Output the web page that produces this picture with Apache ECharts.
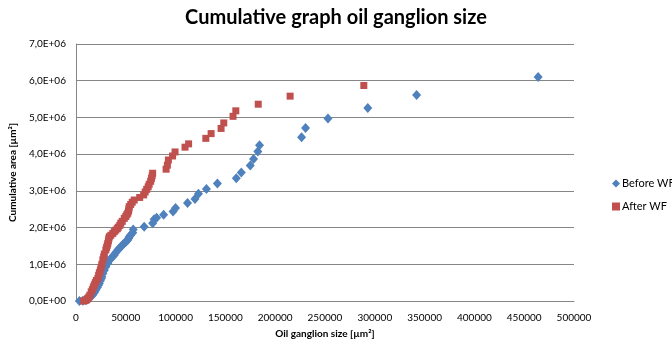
<!DOCTYPE html>
<html>
<head>
<meta charset="utf-8">
<script src="https://cdn.jsdelivr.net/npm/echarts@6/dist/echarts.min.js"></script>
<style>
html,body{margin:0;padding:0;background:#fff;}
#chart{width:672px;height:347px;}
</style>
</head>
<body>
<div id="chart"></div>
<script>
var titleText = 'Cumulative graph oil ganglion size';
var xAxisName = 'Oil ganglion size [µm²]';
var yAxisName = 'Cumulative area [µm²]';
var seriesNames = ['Before WF', 'After WF'];
var yTickLabels = ['0,0E+00','1,0E+06','2,0E+06','3,0E+06','4,0E+06','5,0E+06','6,0E+06','7,0E+06'];
var xTickLabels = ['0','50000','100000','150000','200000','250000','300000','350000','400000','450000','500000'];

var beforeWF = [
  [3500,0],[7000,10000],[10000,25000],[12500,60000],[15000,120000],[17000,170000],
  [18500,230000],[20000,300000],[21500,370000],[22500,430000],[23500,480000],
  [24500,550000],[25500,610000],[26000,660000],[27000,750000],[28500,840000],
  [30000,930000],[32000,1030000],[33500,1100000],[35000,1160000],[37000,1210000],
  [38500,1250000],[40000,1320000],[42000,1390000],[43500,1430000],[45000,1480000],
  [47000,1530000],[48500,1570000],[50500,1620000],[52000,1660000],[53000,1710000],
  [53500,1750000],[55000,1800000],[57000,1860000],[57500,1950000],[68500,2020000],
  [77000,2120000],[78500,2230000],[81000,2270000],[88000,2350000],[97500,2440000],
  [100000,2530000],[112000,2670000],[119500,2780000],[123000,2920000],[131000,3050000],
  [142000,3200000],[161000,3340000],[166000,3500000],[175000,3690000],[178300,3870000],
  [182600,4070000],[184300,4240000],[226500,4460000],[230500,4710000],[253000,4970000],
  [293000,5260000],[342000,5610000],[464000,6100000]
];

var afterWF = [
  [7700,0],[9000,10000],[10500,30000],[11500,55000],[12000,70000],[13000,110000],
  [14000,160000],[15300,250000],[16500,310000],[17500,380000],[18500,440000],
  [19500,500000],[20500,560000],[22000,620000],[22800,700000],[23500,770000],
  [24500,840000],[25200,920000],[26000,1000000],[27000,1120000],[27800,1200000],
  [28500,1280000],[30000,1390000],[30800,1460000],[31500,1520000],[32000,1570000],
  [32600,1640000],[33000,1700000],[33500,1750000],[35000,1790000],[37000,1840000],
  [38500,1890000],[40000,1930000],[41500,1970000],[42500,2010000],[44000,2060000],
  [45000,2120000],[46500,2170000],[48500,2250000],[50000,2300000],[51000,2350000],
  [52000,2390000],[52800,2450000],[53200,2510000],[53500,2570000],[55000,2630000],
  [56500,2690000],[58500,2750000],[64000,2820000],[68000,2890000],[69500,2970000],
  [71000,3040000],[72500,3110000],[73500,3180000],[75000,3260000],[75800,3340000],
  [76500,3410000],[77000,3480000],[90500,3590000],[91800,3700000],[92800,3840000],
  [97000,3950000],[99500,4060000],[109500,4190000],[113100,4280000],[130400,4430000],
  [135700,4560000],[145700,4700000],[148400,4850000],[157700,5030000],[160500,5180000],
  [183000,5360000],[215000,5580000],[289000,5870000]
];

var FONT = 'Lato, "Liberation Sans", sans-serif';
var chart = echarts.init(document.getElementById('chart'), null, {renderer:'canvas'});
chart.setOption({
  animation: false,
  backgroundColor: '#ffffff',
  title: {
    text: titleText,
    left: 'center',
    top: 3,
    textStyle: {fontFamily: FONT, fontSize: 20, fontWeight: 'bold', color: '#000'}
  },
  legend: {
    orient: 'vertical',
    left: 607,
    top: 173,
    itemWidth: 8,
    itemHeight: 8,
    itemGap: 12,
    textStyle: {fontFamily: FONT, fontSize: 11, color: '#000', padding: [0,0,0,-3]},
    data: [
      {name: seriesNames[0], icon: 'diamond'},
      {name: seriesNames[1], icon: 'rect'}
    ]
  },
  grid: {left: 73, right: 98, top: 44, bottom: 46, containLabel: false},
  xAxis: {
    type: 'value',
    min: 0, max: 500000, interval: 50000,
    name: xAxisName,
    nameLocation: 'middle',
    nameGap: 28,
    nameTextStyle: {fontFamily: FONT, fontSize: 10, fontWeight: 'bold', color: '#000'},
    axisLine: {show: true, lineStyle: {color: '#868686', width: 1}},
    axisTick: {show: false},
    splitLine: {show: false},
    axisLabel: {
      fontFamily: FONT, fontSize: 10, color: '#000', margin: 12,
      formatter: function (v) { return xTickLabels[Math.round(v / 50000)]; }
    }
  },
  yAxis: {
    type: 'value',
    min: 0, max: 7000000, interval: 1000000,
    name: yAxisName,
    nameLocation: 'middle',
    nameGap: 56,
    nameTextStyle: {fontFamily: FONT, fontSize: 10, fontWeight: 'bold', color: '#000'},
    axisLine: {show: true, lineStyle: {color: '#868686', width: 1}},
    axisTick: {show: false},
    splitLine: {show: true, lineStyle: {color: '#868686', width: 1}},
    axisLabel: {
      fontFamily: FONT, fontSize: 10, color: '#000', margin: 10,
      formatter: function (v) { return yTickLabels[Math.round(v / 1000000)]; }
    }
  },
  series: [
    {
      name: seriesNames[0],
      type: 'scatter',
      symbol: 'diamond',
      symbolSize: [9, 10],
      itemStyle: {color: '#4F81BD', opacity: 1},
      data: beforeWF
    },
    {
      name: seriesNames[1],
      type: 'scatter',
      symbol: 'rect',
      symbolSize: 7,
      itemStyle: {color: '#C0504D', opacity: 1},
      data: afterWF
    }
  ]
});
</script>
</body>
</html>
